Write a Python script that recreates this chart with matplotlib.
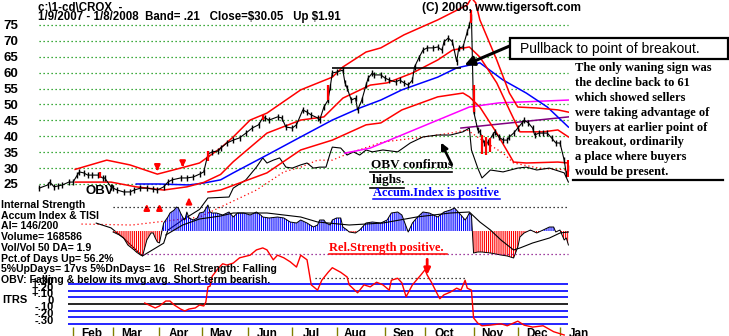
import numpy as np
import pandas as pd
import matplotlib
matplotlib.use("Agg")
import matplotlib.pyplot as plt
from matplotlib.patches import Rectangle

plt.rcParams['hatch.linewidth'] = 0.8

# ---------------- trading calendar ----------------
holidays = ["2007-01-15", "2007-02-19", "2007-04-06", "2007-05-28", "2007-07-04",
            "2007-09-03", "2007-11-22", "2007-12-25", "2008-01-01"]
dates = pd.bdate_range("2007-01-09", "2008-01-08")
dates = dates[~dates.isin(pd.to_datetime(holidays))]
n_days = len(dates)

# ---------------- price data (trading-day index, close) ----------------
price_day = [0, 4, 5, 7, 9, 11, 14, 16, 18, 19, 21, 23, 25, 28, 30, 31, 34, 35, 37, 40,
             43, 45, 48, 51, 54, 56, 59, 61, 63, 67, 70, 73, 76, 78, 80, 82, 85, 86, 89, 92,
             95, 98, 101, 104, 106, 107, 109, 113, 115, 117, 120, 122, 125, 127, 129, 132, 133, 135, 137, 138,
             139, 141, 144, 145, 146, 148, 150, 151, 153, 155, 156, 158, 159, 162, 164, 166, 169, 171, 173, 175,
             177, 178, 180, 182, 184, 187, 189, 191, 192, 194, 196, 198, 199, 201, 203, 204, 205, 206, 208, 209,
             211, 213, 215, 216, 218, 220, 222, 223, 225, 227, 229, 230, 232, 234, 235, 237, 239, 241, 243, 245,
             247, 249, 250, 251]
price_close = [23.7, 24.7, 25.6, 24.1, 24.4, 24.7, 25.6, 25.6, 27.8, 28.8, 28.5, 27.8, 27.8, 27.8, 26.9, 26.9, 24.1, 23.7, 23.1, 22.5,
               22.5, 23.1, 23.7, 23.7, 23.4, 23.1, 24.1, 25.6, 26.3, 26.9, 26.9, 27.2, 28.1, 28.8, 34.4, 35.1, 35.4, 36.3, 37.9, 38.8,
               39.5, 41.0, 42.6, 43.6, 45.8, 45.8, 45.1, 46.1, 45.8, 42.9, 42.6, 43.6, 48.3, 47.6, 46.7, 45.8, 45.1, 49.2, 51.4, 55.5,
               59.9, 60.2, 60.8, 56.8, 55.2, 51.4, 52.0, 48.3, 51.4, 56.1, 58.3, 59.9, 59.3, 59.3, 58.3, 57.7, 57.1, 57.7, 56.8, 56.1,
               57.7, 61.8, 64.6, 67.1, 67.8, 67.8, 68.1, 67.1, 69.7, 70.9, 69.7, 63.5, 67.8, 68.1, 72.8, 75.0, 77.5, 48.0, 42.0, 41.4,
               37.9, 38.2, 40.4, 41.4, 39.8, 38.8, 38.8, 39.8, 41.0, 42.6, 44.2, 45.1, 44.2, 42.6, 40.4, 41.0, 41.0, 41.0, 39.5, 37.9,
               37.9, 32.5, 28.14, 30.05]

# high-volume days drawn in red (day, high, low)
red_day = [29, 80, 106, 137, 205, 206, 210, 212, 214, 251]
red_high = [28.8, 35.4, 46.7, 56.1, 79.7, 56.0, 40.4, 39.8, 39.5, 32.5]
red_low = [26.9, 32.2, 45.1, 51.4, 75.5, 47.5, 34.5, 34.1, 35.1, 27.2]

# ---------------- bands and moving averages ----------------
upper_day = [17, 32, 43, 56, 67, 76, 86, 92, 100, 108, 124, 139, 144, 155, 162, 173, 189, 203, 205, 207,
             209, 217, 223, 227, 236, 246, 251]
upper_val = [29.6, 32.5, 31.0, 28.1, 30.0, 31.6, 36.3, 39.8, 45.1, 47.3, 54.6, 58.6, 61.8, 66.5, 67.8, 71.9, 76.6, 81.3, 83.5, 82.0,
             76.6, 64.0, 53.6, 49.2, 48.9, 48.3, 47.6]
mid_day = [17, 34, 46, 59, 70, 78, 86, 92, 100, 108, 124, 135, 144, 157, 165, 177, 189, 196, 204, 209,
           217, 223, 228, 239, 246, 251]
mid_val = [25.6, 25.6, 24.1, 23.1, 24.1, 25.5, 28.0, 32.0, 36.5, 41.0, 45.1, 46.1, 52.0, 56.1, 56.8, 59.9, 64.0, 67.1, 68.1, 64.9,
           56.8, 48.3, 41.4, 41.4, 42.0, 39.8]
lower_day = [80, 86, 108, 124, 139, 155, 162, 172, 189, 201, 204, 209, 217, 225, 231, 246, 251]
lower_val = [22.5, 23.1, 28.5, 35.7, 38.8, 43.6, 44.2, 48.3, 52.4, 53.6, 52.4, 49.2, 41.0, 31.9, 31.6, 31.9, 31.6]
ma50_day = [46, 57, 71, 78, 86, 92, 108, 124, 139, 152, 162, 172, 189, 198, 209, 220, 231, 241, 251]
ma50_val = [25.0, 25.0, 24.7, 25.3, 26.3, 28.5, 34.1, 39.8, 45.1, 48.9, 51.4, 54.6, 58.6, 61.5, 63.1, 57.7, 53.6, 49.2, 42.9]
ma_long_day = [145, 157, 204, 218, 251]
ma_long_val = [34.7, 36.3, 49.2, 50.5, 51.4]
ma_purple_day = [200, 251]
ma_purple_val = [42.6, 46.1]

# ---------------- on-balance volume (drawn in price units) ----------------
obv_day = [27, 34, 40, 46, 49, 56, 59, 61, 68, 76, 80, 90, 92, 98, 103, 106, 108, 111, 114, 117,
           120, 124, 127, 130, 133, 136, 138, 139, 143, 146, 149, 152, 155, 158, 163, 170, 176, 182, 189, 195,
           201, 204, 205, 208, 210, 214, 220, 227, 231, 236, 242, 249, 251]
obv_val = [12.7, 11.2, 8.0, 4.2, 2.4, 5.2, 6.4, 10.5, 13.7, 17.0, 20.6, 20.9, 23.7, 26.3, 30.3, 33.2, 31.6, 32.5, 33.2, 30.3,
           30.0, 31.0, 31.6, 30.0, 30.3, 30.3, 34.7, 36.6, 36.3, 34.1, 35.1, 34.1, 35.7, 35.1, 35.7, 35.1, 37.9, 39.8, 40.4, 40.4,
           41.4, 42.6, 35.7, 30.0, 26.9, 29.4, 28.8, 30.0, 30.3, 29.4, 30.0, 28.5, 25.6]
obv_ma_day = [20, 44, 76, 103, 116, 124, 132, 139, 147, 163, 179, 195, 203, 210, 220, 225, 237, 251]
obv_ma_val = [12.4, 12.1, 14.6, 23.1, 28.8, 30.3, 32.5, 32.5, 34.7, 38.2, 39.5, 41.0, 42.0, 38.8, 34.7, 31.6, 30.0, 29.4]

# ---------------- accumulation index ----------------
ai_day = [35, 36, 38, 40, 42, 45, 46, 48, 49, 51, 53, 54, 55, 56, 57, 59, 61, 62, 64, 65,
          66, 67, 68, 69, 70, 71, 73, 75, 76, 78, 80, 81, 82, 84, 87, 90, 92, 94, 95, 97,
          100, 103, 105, 106, 109, 113, 116, 119, 122, 124, 127, 130, 132, 133, 135, 136, 138, 139, 141, 143,
          144, 146, 147, 150, 152, 155, 158, 162, 165, 167, 170, 172, 175, 177, 179, 182, 185, 189, 192, 195,
          197, 200, 202, 203, 204, 205, 206, 208, 210, 214, 219, 222, 225, 227, 228, 230, 231, 233, 236, 239,
          241, 242, 244, 245, 247, 249, 250, 251]
ai_val = [-1, -2, -4, -7, -14, -19, -21, -24, -25, -9, -2, -2, -7, -11, -12, 8, 14, 18, 21, 24,
          23, 18, 14, 11, 19, 13, 11, 13, 18, 19, 26, 19, 18, 18, 16, 19, 14, 18, 18, 18,
          16, 19, 16, 14, 13, 14, 13, 9, 8, 11, 8, 4, 6, 11, 11, 8, 6, 11, 13, 13,
          4, 1, -1, -2, 1, 8, 9, 8, 11, 18, 19, 16, -1, 8, 13, 19, 18, 14, 19, 21,
          23, 16, 11, 14, 18, 16, -22, -21, -21, -22, -24, -25, -27, -16, -6, -2, -1, 1, -2, 1,
          3, 4, 4, -1, 1, -9, -7, -14]
ai_ma_day = [60, 68, 76, 86, 92, 108, 124, 132, 147, 163, 179, 195, 204, 209, 214, 219, 225, 228, 234, 242,
             247, 251]
ai_ma_val = [-4, 6, 12, 15, 18, 18, 14, 9, 6, 8, 14, 18, 19, 9, 1, -9, -19, -17, -12, -7,
             -2, -1]

# ---------------- intermediate-term relative strength ----------------
itrs_day = [50, 52, 55, 57, 60, 62, 64, 67, 69, 71, 74, 76, 78, 79, 80, 81, 82, 85, 87, 89,
            92, 95, 100, 103, 106, 108, 111, 113, 116, 119, 122, 124, 127, 129, 132, 134, 137, 139, 143, 146,
            147, 151, 154, 157, 160, 163, 166, 167, 170, 172, 174, 177, 181, 183, 184, 186, 189, 190, 192, 195,
            198, 200, 202, 203, 205, 206, 208, 210, 214, 219, 222, 227, 230, 234, 239, 244, 249]
itrs_val = [0.015, -0.015, -0.06, -0.03, 0.045, 0.045, -0.015, -0.076, -0.106, -0.076, -0.06, -0.015, -0.03, 0.03, 0.26, 0.27, 0.42, 0.545, 0.61, 0.59,
            0.62, 0.70, 0.74, 0.82, 0.85, 0.82, 0.67, 0.74, 0.70, 0.64, 0.56, 0.74, 0.67, 0.29, 0.21, 0.36, 0.48, 0.55, 0.48, 0.41,
            0.29, 0.17, 0.29, 0.26, 0.33, 0.29, 0.21, 0.36, 0.39, 0.32, 0.11, 0.29, 0.44, 0.52, 0.44, 0.33, 0.14, 0.08, 0.14, 0.18,
            0.24, 0.21, 0.36, 0.24, 0.21, -0.21, -0.29, -0.33, -0.32, -0.30, -0.33, -0.26, -0.32, -0.35, -0.33, -0.42, -0.47]
itrs_levels = [0.3, 0.2, 0.1, -0.1, -0.2, -0.3]
itrs_labels = ["+.30", "+.20", "+.10", "0", "-.10", "-.20", "-.30"]

price_levels = [25, 30, 35, 40, 45, 50, 55, 60, 65, 70, 75]
breakout_level = 61.6

info_lines = ["Internal Strength", "Accum Index & TISI", "AI= 146/200", "Volume= 168586",
              "Vol/Vol 50 DA= 1.9", "Pct.of Days Up= 56.2%",
              "5%UpDays= 17vs 5%DnDays= 16   Rel.Strength: Falling",
              "OBV: Falling & below its mvg.avg. Short-term bearish."]
note_lines = ["The only waning sign was", "the decline back to 61", "which showed sellers",
              "were taking advantage of", "buyers at earlier point of", "breakout, ordinarily",
              "a place where buyers", "would be present."]

# ---------------- figure ----------------
W, H = 729, 336
fig = plt.figure(figsize=(W / 100, H / 100), dpi=100)
fig.patch.set_facecolor("white")


def box(x0, y0, x1, y1):
    return [x0 / W, 1 - y1 / H, (x1 - x0) / W, (y1 - y0) / H]


def fy(y):
    return 1 - y / H


XL = (-0.62, 251.28)
SANS = "Liberation Sans"
SERIF = "Liberation Serif"
dot = (0, (1, 2.2))

# price panel
ax_p = fig.add_axes(box(38, 0, 569, 262))
ax_p.set_xlim(XL)
ax_p.set_ylim(0.47, 82.86)
for s in ax_p.spines.values():
    s.set_visible(False)
ax_p.set_xticks([])
ax_p.set_yticks(price_levels)
ax_p.set_yticklabels([str(v) for v in price_levels], fontfamily=SANS, fontweight="bold", fontsize=9.5)
ax_p.tick_params(axis="y", length=0, pad=14)
ax_p.patch.set_alpha(0)
ax_p.hlines(price_levels, 0, 251, colors="#009000", linestyles=dot, lw=0.9, zorder=1)

ax_p.plot(obv_ma_day, obv_ma_val, color="red", lw=0.9, ls=dot, zorder=2)
ax_p.plot(obv_day, obv_val, color="black", lw=0.8, zorder=2)
ax_p.plot(ma_long_day, ma_long_val, color="#ff00ff", lw=1.1, zorder=2)
ax_p.plot(ma_purple_day, ma_purple_val, color="#800080", lw=1.1, zorder=2)
ax_p.plot(ma50_day, ma50_val, color="blue", lw=1.1, zorder=3)
for d, v in ((upper_day, upper_val), (mid_day, mid_val), (lower_day, lower_val)):
    ax_p.plot(d, v, color="red", lw=1.1, zorder=3)
ax_p.hlines(breakout_level, 139, 200, colors="black", lw=1.2, zorder=3)
ax_p.plot(price_day, price_close, color="black", lw=0.8, marker="|", ms=5, mew=1.0, zorder=4)
ax_p.vlines(red_day, red_low, red_high, colors="red", lw=1.6, zorder=5)

# buy / sell signal arrows
for d, y0, y1 in ((51, 16.0, 19.6), (57, 16.0, 19.6), (71, 18.5, 21.6)):
    ax_p.annotate("", xy=(d, y1), xytext=(d, y0),
                  arrowprops=dict(arrowstyle="-|>", color="red", lw=1.6, mutation_scale=8))
for d, y0, y1 in ((56, 29.3, 28.2), (68, 30.8, 29.4)):
    ax_p.annotate("", xy=(d, y1), xytext=(d, y0 + 1.5),
                  arrowprops=dict(arrowstyle="-|>", color="red", lw=1.6, mutation_scale=8))

ax_p.text(22.0, 22.9, "OBV", fontfamily=SANS, fontweight="bold", fontsize=9.5, va="center", ha="left", zorder=6)

# accumulation index panel
ax_a = fig.add_axes(box(38, 200, 569, 262))
ax_a.set_xlim(XL)
ax_a.set_ylim(-31, 31)
ax_a.axis("off")
ai_d = np.array(ai_day)
ai_v = np.array(ai_val)
ax_a.fill_between(ai_d, 0, ai_v, where=ai_v >= 0, interpolate=True, facecolor="none",
                  edgecolor="blue", hatch="|" * 8, lw=0)
ax_a.fill_between(ai_d, 0, ai_v, where=ai_v <= 0, interpolate=True, facecolor="none",
                  edgecolor="red", hatch="|" * 8, lw=0)
ax_a.plot(ai_d, ai_v, color="black", lw=0.7)
ax_a.plot(ai_ma_day, ai_ma_val, color="black", lw=0.8)
ax_a.hlines(24, 35, 251, colors="black", linestyles=dot, lw=0.9)
ax_a.hlines(-23, 49, 251, colors="#800080", linestyles=dot, lw=0.9)

# relative strength panel
ax_i = fig.add_axes(box(38, 240, 569, 336))
ax_i.set_xlim(XL)
ax_i.set_ylim(-0.485, 0.970)
ax_i.axis("off")
ax_i.hlines(itrs_levels, 13.6, 251, colors="blue", lw=1.2)
ax_i.hlines(0, 13.6, 251, colors="black", lw=1.2)
ax_i.hlines(0.39, 131, 202, colors="black", linestyles=dot, lw=0.9)
ax_i.plot(itrs_day, itrs_val, color="red", lw=1.0, zorder=5)

# month axis
month_idx = [i for i in range(1, n_days) if dates[i].month != dates[i - 1].month]
ax_i.vlines(month_idx, -0.485, -0.35, colors="#808000", lw=1.0, clip_on=False)
for i in month_idx:
    ax_i.text(i + 9, -0.358, dates[i].strftime("%b"), ha="center", va="top",
              fontfamily=SANS, fontweight="bold", fontsize=8.5, clip_on=False)

# header text
fig.text(38 / W, fy(2), "c:\\1-cd\\CROX  -", fontfamily=SANS, fontweight="bold", fontsize=8.3, va="top")
fig.text(38 / W, fy(11), "1/9/2007 - 1/8/2008  Band= .21   Close=\\$30.05   Up \\$1.91",
         fontfamily=SANS, fontweight="bold", fontsize=8.3, va="top")
fig.text(422 / W, fy(2), "(C) 2006, www.tigersoft.com", fontfamily=SANS, fontweight="bold",
         fontsize=8.6, va="top")

# left information block
for k, line in enumerate(info_lines):
    fig.text(1 / W, fy(205 + 10.7 * k), line, fontfamily=SANS, fontweight="bold", fontsize=7.6,
             va="center")
fig.text(2 / W, fy(300), "ITRS", fontfamily=SANS, fontweight="bold", fontsize=8, va="center")
for lab, y in zip(itrs_labels, [282, 288, 294, 301, 307, 314, 321]):
    fig.text(54 / W, fy(y), lab, fontfamily=SANS, fontweight="bold", fontsize=8, va="center", ha="right")

# pullback call-out
fig.patches.append(Rectangle((510 / W, fy(59)), 218 / W, 21 / H, transform=fig.transFigure,
                             facecolor="white", edgecolor="black", lw=1.6))
fig.text(520 / W, fy(49), "Pullback to point of breakout.", fontfamily=SANS, fontsize=10, va="center")
ax_p.annotate("", xy=(200.5, 62.0), xycoords="data", xytext=(512, H - 45), textcoords="figure pixels",
              arrowprops=dict(arrowstyle="-|>", color="black", lw=2.2, mutation_scale=14))

# note on the right
for k, line in enumerate(note_lines):
    fig.text(575 / W, fy(68 + 14.9 * k), line, fontfamily=SERIF, fontweight="bold", fontsize=9,
             va="center")
fig.add_artist(plt.Line2D([573 / W, 723 / W], [fy(180), fy(180)], color="black", lw=1.6))

# chart comments
ax_p.text(157.5, 31.0, "OBV confirms", fontfamily=SERIF, fontweight="bold", fontsize=9.5,
          va="center", zorder=6)
ax_p.text(157.5, 26.2, "highs.", fontfamily=SERIF, fontweight="bold", fontsize=9.5, va="center", zorder=6)
fig.add_artist(plt.Line2D([370 / W, 452 / W], [fy(172), fy(172)], color="black", lw=1.2))
fig.add_artist(plt.Line2D([370 / W, 404 / W], [fy(188), fy(188)], color="black", lw=1.2))
ax_p.annotate("", xy=(190, 38.8), xycoords="data", xytext=(196.3, 30.3), textcoords="data",
              arrowprops=dict(arrowstyle="-|>", color="black", lw=1.8, mutation_scale=10))

fig.text(373 / W, fy(193), "Accum.Index is positive", fontfamily=SERIF, fontweight="bold", fontsize=9,
         va="center", color="blue")
fig.add_artist(plt.Line2D([373 / W, 500 / W], [fy(199), fy(199)], color="blue", lw=1.1))

fig.text(329 / W, fy(248), "Rel.Strength positive.", fontfamily=SERIF, fontweight="bold", fontsize=9,
         va="center", color="red")
fig.add_artist(plt.Line2D([329 / W, 447 / W], [fy(254), fy(254)], color="red", lw=1.1))
ax_i.annotate("", xy=(184, 0.40), xycoords="data", xytext=(184, 0.72), textcoords="data",
              arrowprops=dict(arrowstyle="-|>", color="red", lw=2.0, mutation_scale=9))

fig.savefig("out.png", dpi=100, facecolor="white")
